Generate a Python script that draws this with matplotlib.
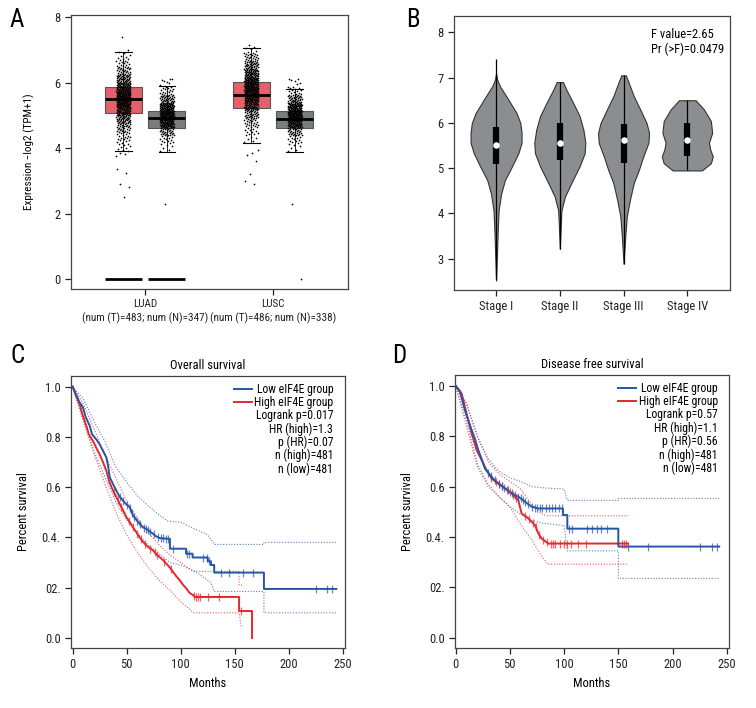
import numpy as np
import matplotlib
matplotlib.use("Agg")
import matplotlib.pyplot as plt
from matplotlib import font_manager

_avail = {f.name for f in font_manager.fontManager.ttflist}
_fams = [f for f in ['Roboto Condensed', 'Liberation Sans Narrow', 'DejaVu Sans Condensed', 'Roboto', 'DejaVu Sans'] if f in _avail]
plt.rcParams['font.family'] = _fams
plt.rcParams['axes.linewidth'] = 0.9
plt.rcParams['xtick.major.width'] = 0.9
plt.rcParams['ytick.major.width'] = 0.9
CONDENSED = _fams[0] in ('Roboto Condensed', 'Liberation Sans Narrow', 'DejaVu Sans Condensed')

# ---------------- Panel A data ----------------
cancer_types = ["LUAD", "LUSC"]
cancer_labels = ["LUAD\n(num (T)=483; num (N)=347)", "LUSC\n(num (T)=486; num (N)=338)"]
# box stats: [whislo, q1, med, q3, whishi]
luad_tumor_box = [3.92, 5.08, 5.49, 5.87, 6.93]
luad_normal_box = [3.89, 4.60, 4.91, 5.13, 5.90]
lusc_tumor_box = [4.16, 5.21, 5.63, 6.02, 7.04]
lusc_normal_box = [3.89, 4.60, 4.90, 5.12, 5.80]
# sample counts per 0.25 expression bin (bins start at given value)
luad_tumor_bin_start = 3.75
luad_tumor_counts = [6, 10, 16, 26, 42, 60, 80, 84, 66, 42, 26, 14, 6]
luad_tumor_outliers = [7.38, 3.35, 3.25, 2.90, 2.80, 2.52]
luad_normal_bin_start = 3.88
luad_normal_counts = [5, 14, 30, 62, 92, 78, 38, 16, 4]
luad_normal_outliers = [6.03, 6.08, 6.12, 2.28]
lusc_tumor_bin_start = 4.16
lusc_tumor_counts = [6, 12, 20, 32, 52, 72, 82, 78, 56, 36, 22, 6]
lusc_tumor_outliers = [3.95, 3.85, 3.80, 3.60, 3.22, 3.00, 2.90]
lusc_normal_bin_start = 3.88
lusc_normal_counts = [5, 14, 30, 60, 88, 76, 36, 14, 2]
lusc_normal_outliers = [6.00, 6.05, 6.10, 6.12, 2.28, 0.0]
zero_line_value = 0.0

# ---------------- Panel B data ----------------
stages = ["Stage I", "Stage II", "Stage III", "Stage IV"]
stage_min = [2.52, 3.22, 2.89, 4.95]
stage_max = [7.41, 6.90, 7.05, 6.50]
stage_q1 = [5.09, 5.18, 5.12, 5.26]
stage_q3 = [5.91, 6.00, 5.97, 5.99]
stage_median = [5.52, 5.55, 5.62, 5.63]
violin1_y = [2.52, 3.19, 3.63, 4.07, 4.44, 4.74, 5.04, 5.33, 5.56, 5.78, 6.00, 6.22, 6.52, 6.81, 6.96, 7.10]
violin1_w = [0.0, 0.016, 0.026, 0.04, 0.08, 0.14, 0.25, 0.35, 0.40, 0.40, 0.38, 0.32, 0.19, 0.06, 0.016, 0.0]
violin2_y = [3.22, 3.78, 4.07, 4.37, 4.67, 5.04, 5.33, 5.56, 5.85, 6.15, 6.44, 6.74, 6.90]
violin2_w = [0.0, 0.016, 0.026, 0.08, 0.18, 0.31, 0.39, 0.40, 0.37, 0.31, 0.21, 0.10, 0.05]
violin3_y = [2.89, 3.48, 3.93, 4.30, 4.67, 4.96, 5.26, 5.56, 5.78, 6.00, 6.30, 6.59, 6.89, 7.05]
violin3_w = [0.0, 0.026, 0.05, 0.10, 0.16, 0.24, 0.31, 0.39, 0.40, 0.36, 0.26, 0.16, 0.08, 0.035]
violin4_y = [4.95, 5.11, 5.26, 5.41, 5.56, 5.78, 6.04, 6.30, 6.50]
violin4_w = [0.23, 0.37, 0.40, 0.36, 0.34, 0.39, 0.37, 0.26, 0.13]
f_text = "F value=2.65\nPr (>F)=0.0479"

# ---------------- Panel C data (overall survival) ----------------
os_low_t = [0, 3, 6, 9.6, 12, 15.8, 18, 21.9, 25, 28, 31.2, 33, 34.3, 37, 40.5, 43, 46.7, 50, 52.8, 55.9, 59, 62, 65, 68.3, 71, 74.5, 77, 80.7, 90, 90, 105, 105, 111, 111, 125, 125, 128, 128, 131, 131, 177, 177, 244]
os_low_s = [1.0, 0.97, 0.94, 0.917, 0.88, 0.844, 0.81, 0.79, 0.77, 0.745, 0.718, 0.68, 0.64, 0.615, 0.586, 0.565, 0.546, 0.53, 0.52, 0.487, 0.47, 0.454, 0.44, 0.434, 0.425, 0.414, 0.405, 0.397, 0.394, 0.355, 0.355, 0.335, 0.335, 0.32, 0.32, 0.305, 0.305, 0.29, 0.29, 0.26, 0.26, 0.195, 0.195]
os_high_t = [0, 3, 6.5, 9, 12.7, 15, 18.8, 22, 25, 28, 31.2, 34, 37.4, 40.5, 43.6, 47, 49.8, 53, 55.9, 59, 62, 65, 68.3, 71, 74.5, 77, 80.7, 84, 86.8, 90, 93, 96, 99.2, 102, 105.4, 108, 111.6, 113, 154, 154, 166, 166]
os_high_s = [1.0, 0.965, 0.93, 0.89, 0.844, 0.81, 0.784, 0.755, 0.73, 0.70, 0.665, 0.62, 0.586, 0.56, 0.533, 0.505, 0.48, 0.46, 0.44, 0.42, 0.40, 0.383, 0.368, 0.358, 0.348, 0.335, 0.321, 0.308, 0.295, 0.28, 0.262, 0.245, 0.229, 0.212, 0.196, 0.18, 0.170, 0.163, 0.163, 0.107, 0.107, 0.0]
os_low_up_t = [0, 10, 20, 30, 40, 50, 60, 70, 80, 88, 100, 110, 125, 131, 177, 177, 244]
os_low_up_s = [1.0, 0.95, 0.86, 0.78, 0.68, 0.62, 0.565, 0.525, 0.49, 0.465, 0.46, 0.44, 0.41, 0.372, 0.372, 0.38, 0.38]
os_low_lo_t = [0, 10, 20, 30, 40, 50, 60, 70, 80, 90, 100, 113, 120, 128, 131, 177, 177, 244]
os_low_lo_s = [1.0, 0.87, 0.74, 0.64, 0.54, 0.47, 0.415, 0.37, 0.335, 0.30, 0.29, 0.265, 0.245, 0.22, 0.185, 0.185, 0.10, 0.10]
os_high_up_t = [0, 10, 20, 30, 40, 50, 60, 70, 80, 90, 100, 112, 154, 154, 157]
os_high_up_s = [1.0, 0.93, 0.83, 0.73, 0.635, 0.545, 0.475, 0.42, 0.37, 0.33, 0.30, 0.265, 0.265, 0.21, 0.21]
os_high_lo_t = [0, 10, 20, 30, 40, 50, 60, 70, 80, 90, 100, 112, 154, 156, 157]
os_high_lo_s = [1.0, 0.86, 0.73, 0.61, 0.50, 0.41, 0.34, 0.28, 0.23, 0.19, 0.145, 0.10, 0.10, 0.045, 0.045]
os_low_censor = [44, 47, 50, 53, 55, 57, 60, 62, 66, 68, 70, 72, 75, 79, 82, 84, 86, 88, 93, 106, 108, 121, 124, 126, 137, 145, 158, 167, 225, 235, 240]
os_high_censor = [38, 42, 45, 52, 56, 60, 63, 67, 72, 76, 78, 85, 91, 112, 114, 116, 118, 125, 135, 156]
os_stats = ["Logrank p=0.017", "HR (high)=1.3", "p (HR)=0.07", "n (high)=481", "n (low)=481"]

# ---------------- Panel D data (disease free survival) ----------------
dfs_low_t = [0, 4, 8.6, 13.2, 17.8, 20.9, 24, 27, 30, 33.2, 36, 39.4, 45.5, 51.7, 57.8, 64, 70.1, 76.3, 99, 99, 103, 103, 150, 150, 243]
dfs_low_s = [1.0, 0.976, 0.903, 0.844, 0.79, 0.745, 0.71, 0.672, 0.655, 0.639, 0.625, 0.612, 0.593, 0.573, 0.56, 0.54, 0.52, 0.513, 0.513, 0.487, 0.487, 0.433, 0.433, 0.362, 0.362]
dfs_high_t = [0, 5.5, 10.1, 14.8, 19.4, 24, 28.6, 33.2, 39.4, 45.5, 51.7, 57.8, 60.9, 67, 73.2, 76.3, 79.3, 85.5, 159]
dfs_high_s = [1.0, 0.97, 0.89, 0.81, 0.745, 0.705, 0.665, 0.632, 0.612, 0.593, 0.573, 0.546, 0.493, 0.474, 0.447, 0.414, 0.394, 0.374, 0.374]
dfs_low_up_t = [0, 10, 20, 30, 40, 50, 60, 70, 80, 100, 103, 150, 150, 243]
dfs_low_up_s = [1.0, 0.93, 0.80, 0.71, 0.66, 0.635, 0.62, 0.60, 0.595, 0.59, 0.545, 0.545, 0.553, 0.553]
dfs_low_lo_t = [0, 10, 20, 30, 40, 50, 60, 70, 80, 100, 103, 150, 150, 243]
dfs_low_lo_s = [1.0, 0.86, 0.69, 0.61, 0.56, 0.52, 0.49, 0.465, 0.455, 0.445, 0.345, 0.345, 0.236, 0.236]
dfs_high_up_t = [0, 10, 20, 30, 40, 50, 60, 70, 80, 85, 159]
dfs_high_up_s = [1.0, 0.93, 0.80, 0.70, 0.65, 0.62, 0.59, 0.53, 0.49, 0.484, 0.484]
dfs_high_lo_t = [0, 10, 20, 30, 40, 50, 60, 70, 80, 85, 159]
dfs_high_lo_s = [1.0, 0.84, 0.68, 0.60, 0.56, 0.52, 0.45, 0.39, 0.32, 0.292, 0.292]
dfs_low_censor = [30, 33, 36, 40, 43, 45, 48, 52, 55, 58, 60, 62, 64, 67, 70, 73, 75, 78, 80, 83, 86, 89, 92, 95, 98, 105, 107, 121, 126, 130, 134, 140, 159, 177, 225, 236, 241]
dfs_high_censor = [33, 37, 40, 43, 47, 50, 53, 56, 64, 68, 71, 74, 77, 81, 84, 88, 90, 92, 96, 100, 103, 106, 113, 120, 153, 155, 157]
dfs_stats = ["Logrank p=0.57", "HR (high)=1.1", "p (HR)=0.56", "n (high)=481", "n (low)=481"]

group_names = ["Low eIF4E group", "High eIF4E group"]
surv_yticks = [0.0, 0.2, 0.4, 0.6, 0.8, 1.0]
surv_yticklabels = ["0.0", "02.", "0.4.", "0.6", "0.8", "1.0"]
month_ticks = [0, 50, 100, 150, 200, 250]

# ---------------- style ----------------
RED_BOX = "#e4606a"
GRAY_BOX = "#7b7c7e"
VIOLIN = "#8b8e91"
BLUE = "#2356a8"
RED = "#e8262a"
SPINE = "#444444"
FS = 9 if CONDENSED else 8
FS_SMALL = 8 if CONDENSED else 7.0
FS_LEG = 8.5 if CONDENSED else 7.5

fig = plt.figure(figsize=(7.56, 7.08), dpi=100)

def style_axes(ax):
    for s in ax.spines.values():
        s.set_color(SPINE)
    ax.tick_params(direction='out', length=4, labelsize=FS, colors='#222222')

# ======== Panel A ========
axA = fig.add_axes([71/756, 1-289/708, 277/756, 274/708])
style_axes(axA)
offset = 0.17
bw = 0.29
groups = [
    (1 - offset, luad_tumor_box, RED_BOX, luad_tumor_bin_start, luad_tumor_counts, luad_tumor_outliers),
    (1 + offset, luad_normal_box, GRAY_BOX, luad_normal_bin_start, luad_normal_counts, luad_normal_outliers),
    (2 - offset, lusc_tumor_box, RED_BOX, lusc_tumor_bin_start, lusc_tumor_counts, lusc_tumor_outliers),
    (2 + offset, lusc_normal_box, GRAY_BOX, lusc_normal_bin_start, lusc_normal_counts, lusc_normal_outliers),
]
golden = 0.6180339887
for pos, bx, col, bstart, counts, outl in groups:
    stats = [dict(whislo=bx[0], q1=bx[1], med=bx[2], q3=bx[3], whishi=bx[4], fliers=[])]
    axA.bxp(stats, positions=[pos], widths=bw, patch_artist=True, showfliers=False,
            capwidths=0.13,
            boxprops=dict(facecolor=col, edgecolor='#555555', linewidth=0.8),
            medianprops=dict(color='black', linewidth=2.0, zorder=4),
            whiskerprops=dict(color='black', linewidth=0.6),
            capprops=dict(color='black', linewidth=0.8))
    vals = []
    for k, c in enumerate(counts):
        b0 = bstart + k * 0.25
        vals.extend(list(b0 + (np.arange(c) + 0.5) / c * 0.25))
    vals.extend(outl)
    vals = np.array(vals)
    n = len(vals)
    xs = pos + (np.mod(np.arange(n) * golden, 1.0) - 0.5) * 0.11
    axA.scatter(xs, vals, s=1.5, color='black', linewidths=0, zorder=3)
# zero lines for LUAD groups
axA.hlines([zero_line_value, zero_line_value], [1 - offset - bw/2, 1 + offset - bw/2],
           [1 - offset + bw/2, 1 + offset + bw/2], color='black', linewidth=2.0, zorder=4)
axA.set_xlim(0.42, 2.586)
axA.set_ylim(-0.3, 8.06)
axA.set_yticks([0, 2, 4, 6, 8])
axA.set_xticks([1, 2])
axA.set_xticklabels(cancer_labels, fontsize=FS_SMALL, linespacing=1.3)
axA.set_ylabel("Expression \u2212log2 (TPM+1)", fontsize=FS_SMALL, labelpad=14)

# ======== Panel B ========
axB = fig.add_axes([454/756, 1-290/708, 276/756, 274/708])
style_axes(axB)
profiles = [(violin1_y, violin1_w), (violin2_y, violin2_w), (violin3_y, violin3_w), (violin4_y, violin4_w)]
for i, (py, pw) in enumerate(profiles):
    pos = i + 1
    py = np.array(py); pw = np.array(pw)
    axB.fill_betweenx(py, pos - pw, pos + pw, facecolor=VIOLIN, edgecolor='#333333', linewidth=0.8, zorder=1)
    axB.vlines(pos, stage_min[i], stage_max[i], color='black', linewidth=0.9, zorder=2)
    axB.vlines(pos, stage_q1[i], stage_q3[i], color='black', linewidth=4.5, zorder=3)
    axB.scatter([pos], [stage_median[i]], s=22, color='white', zorder=4, linewidths=0)
axB.set_xlim(0.34, 4.67)
axB.set_ylim(2.31, 8.36)
axB.set_yticks([3, 4, 5, 6, 7, 8])
axB.set_xticks([1, 2, 3, 4])
axB.set_xticklabels(stages, fontsize=FS)
axB.text(0.715, 0.955, f_text, transform=axB.transAxes, fontsize=FS, va='top', ha='left', linespacing=1.15)

# ======== Panels C & D ========
def km_panel(rect, title, low, high, low_up, low_lo, high_up, high_lo, low_c, high_c, stats, leg_x, xmin):
    ax = fig.add_axes(rect)
    style_axes(ax)
    for (t, s), col in [(low_up, BLUE), (low_lo, BLUE), (high_up, RED), (high_lo, RED)]:
        ax.plot(t, s, color=col, linestyle=(0, (1, 1.5)), linewidth=0.8, alpha=0.75)
    ax.plot(high[0], high[1], color=RED, linewidth=1.4, zorder=3)
    ax.plot(low[0], low[1], color=BLUE, linewidth=1.4, zorder=4)
    for (t, s), cens, col, z in [(low, low_c, BLUE, 5), (high, high_c, RED, 4)]:
        cy = np.interp(cens, t, s)
        ax.plot(cens, cy, linestyle='none', marker='|', markersize=6, markeredgewidth=0.9,
                color=col, alpha=0.7, zorder=z)
    ax.set_xlim(xmin, 252)
    ax.set_ylim(-0.04, 1.042)
    ax.set_xticks(month_ticks)
    ax.set_yticks(surv_yticks)
    ax.set_yticklabels(surv_yticklabels)
    ax.set_xlabel("Months", fontsize=FS)
    ax.set_ylabel("Percent survival", fontsize=FS, labelpad=8)
    ax.set_title(title, fontsize=FS, pad=5)
    y0 = 0.952
    dy = 0.049
    for k, (nm, col) in enumerate(zip(group_names, [BLUE, RED])):
        yy = y0 - k * dy
        ax.plot([0.595, 0.66], [yy, yy], transform=ax.transAxes, color=col, linewidth=1.4)
        ax.text(leg_x, yy, nm, transform=ax.transAxes, ha='right', va='center', fontsize=FS_LEG)
    for k, st in enumerate(stats):
        yy = y0 - (k + 2) * dy
        ax.text(leg_x, yy, st, transform=ax.transAxes, ha='right', va='center', fontsize=FS_LEG)
    return ax

axC = km_panel([71/756, 1-648/708, 274/756, 272/708], "Overall survival",
               (os_low_t, os_low_s), (os_high_t, os_high_s),
               (os_low_up_t, os_low_up_s), (os_low_lo_t, os_low_lo_s),
               (os_high_up_t, os_high_up_s), (os_high_lo_t, os_high_lo_s),
               os_low_censor, os_high_censor, os_stats, 0.957, -1.5)
axD = km_panel([455/756, 1-648/708, 274/756, 273/708], "Disease free survival",
               (dfs_low_t, dfs_low_s), (dfs_high_t, dfs_high_s),
               (dfs_low_up_t, dfs_low_up_s), (dfs_low_lo_t, dfs_low_lo_s),
               (dfs_high_up_t, dfs_high_up_s), (dfs_high_lo_t, dfs_high_lo_s),
               dfs_low_censor, dfs_high_censor, dfs_stats, 0.959, -0.5)

# panel letters
for lbl, x, y in [("A", 10/756, 1-8/708), ("B", 406/756, 1-8/708), ("C", 10/756, 1-344/708), ("D", 392/756, 1-344/708)]:
    fig.text(x, y, lbl, fontsize=18, va='top', ha='left')

fig.savefig("out.png", dpi=100)
